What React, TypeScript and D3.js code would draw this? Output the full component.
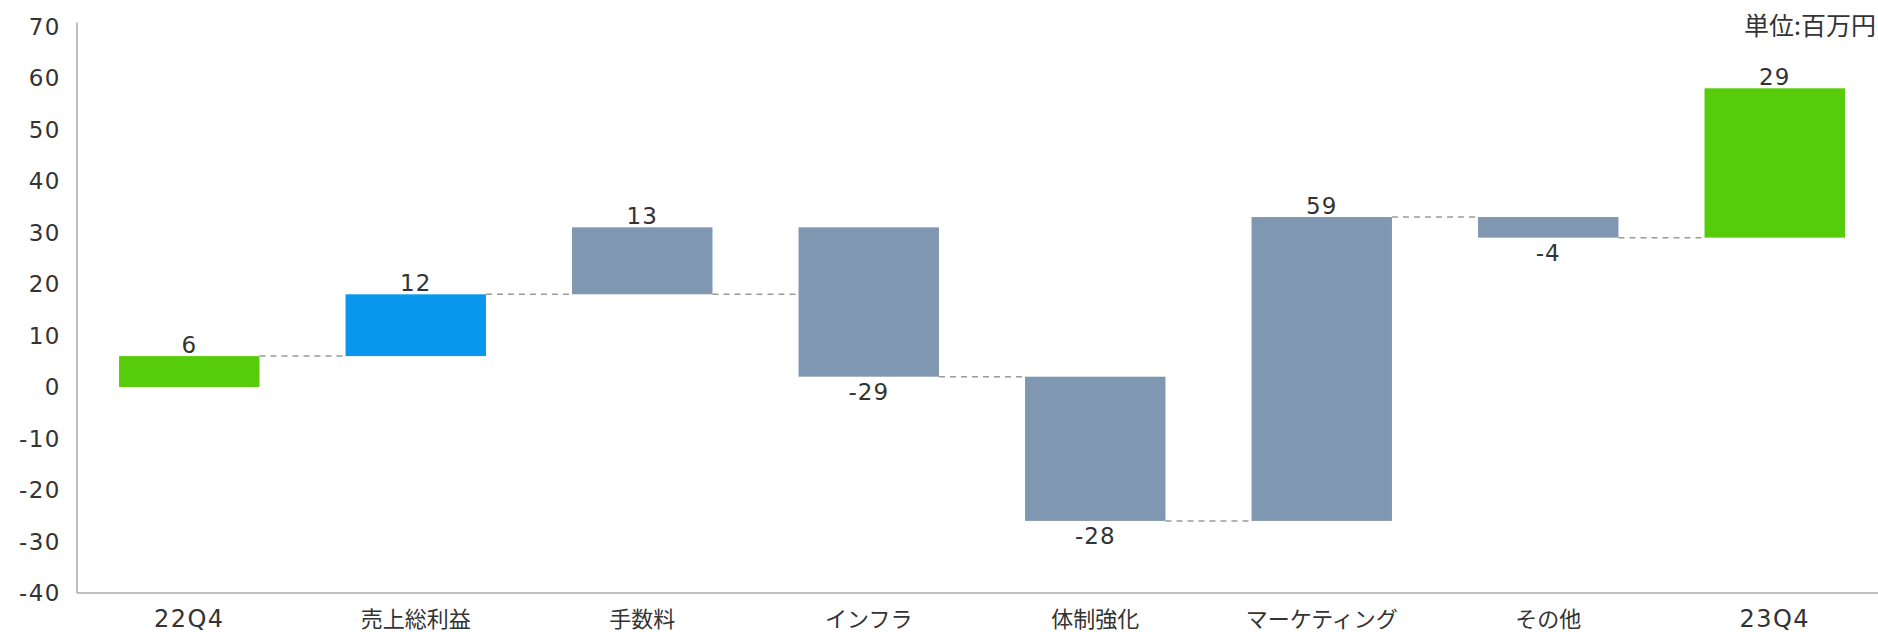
import React from "react";
import * as d3 from "d3";

const categories = ["22Q4", "売上総利益", "手数料", "インフラ", "体制強化", "マーケティング", "その他", "23Q4"];
const deltas = [6, 12, 13, -29, -28, 59, -4, 29];
const barKinds = ["total", "gross", "cost", "cost", "cost", "cost", "cost", "total"];
// dashed connector levels between bar i and bar i+1
const connectorLevels = [6, 18, 18, 2, -26, 33, 29];
const yTicks = [70, 60, 50, 40, 30, 20, 10, 0, -10, -20, -30, -40];
const unitLabel = "単位:百万円";

const W = 1878;
const H = 632;
const JP = "'Noto Sans CJK JP', 'Noto Sans', sans-serif";
const NUM = "'DejaVu Sans', 'Noto Sans', sans-serif";
const colors: Record<string, string> = { total: "#57CC0B", gross: "#0A98EF", cost: "#8097B1" };
const isLatin = (s: string) => /^[0-9A-Za-z\-]+$/.test(s);

export default function App() {
  const x = d3.scaleBand<string>().domain(categories).range([76, 1888]).paddingInner(0.38).paddingOuter(0.19);
  const y = d3.scaleLinear().domain([-40, 70]).range([593, 26.5]);

  let run = 0;
  const bars = deltas.map((d, i) => {
    const start = run;
    const end = run + d;
    run = end;
    return { cat: categories[i], d, start, end, kind: barKinds[i] };
  });

  const x0 = 77;
  const yBottom = y(-40);

  return (
    <svg width={W} height={H} style={{ position: "absolute", left: 0, top: 0, background: "#fff" }} fontFamily={JP}>
      {/* y tick labels */}
      {yTicks.map((t) => (
        <text key={t} x={61} y={y(t)} dy="0.36em" textAnchor="end" fontSize={23} letterSpacing={1.5} fontFamily={NUM} fill="#333">
          {t}
        </text>
      ))}
      {/* connectors */}
      {connectorLevels.map((lv, i) => {
        const xa = (x(categories[i]) as number) + x.bandwidth();
        const xb = x(categories[i + 1]) as number;
        return (
          <line key={"c" + i} x1={xa} x2={xb} y1={y(lv)} y2={y(lv)} stroke="#9a9a9a" strokeWidth={1.5} strokeDasharray="6,5" />
        );
      })}
      {/* bars */}
      {bars.map((b) => {
        const top = y(Math.max(b.start, b.end));
        const bot = y(Math.min(b.start, b.end));
        const bx = x(b.cat) as number;
        const cx = bx + x.bandwidth() / 2;
        return (
          <g key={b.cat}>
            <rect x={bx} y={top} width={x.bandwidth()} height={bot - top} fill={colors[b.kind]} />
            {b.d >= 0 ? (
              <text x={cx} y={top - 3} textAnchor="middle" fontSize={23} letterSpacing={1} fontFamily={NUM} fill="#333">
                {b.d}
              </text>
            ) : (
              <text x={cx} y={bot + 23} textAnchor="middle" fontSize={23} letterSpacing={1} fontFamily={NUM} fill="#333">
                {b.d}
              </text>
            )}
          </g>
        );
      })}
      {/* axes */}
      <line x1={x0} x2={x0} y1={y(70) - 4} y2={yBottom} stroke="#aaa" strokeWidth={1.5} />
      <line x1={x0} x2={W} y1={yBottom} y2={yBottom} stroke="#aaa" strokeWidth={1.5} />
      {categories.map((c) => (
        <text
          key={"l" + c}
          x={(x(c) as number) + x.bandwidth() / 2}
          y={627}
          textAnchor="middle"
          fontSize={isLatin(c) ? 24 : 22}
          letterSpacing={isLatin(c) ? 1.5 : 0}
          fontFamily={isLatin(c) ? NUM : JP}
          fill="#333"
        >
          {c}
        </text>
      ))}
      <text x={W - 2} y={35} textAnchor="end" fontSize={25} fill="#333">
        {unitLabel}
      </text>
    </svg>
  );
}
